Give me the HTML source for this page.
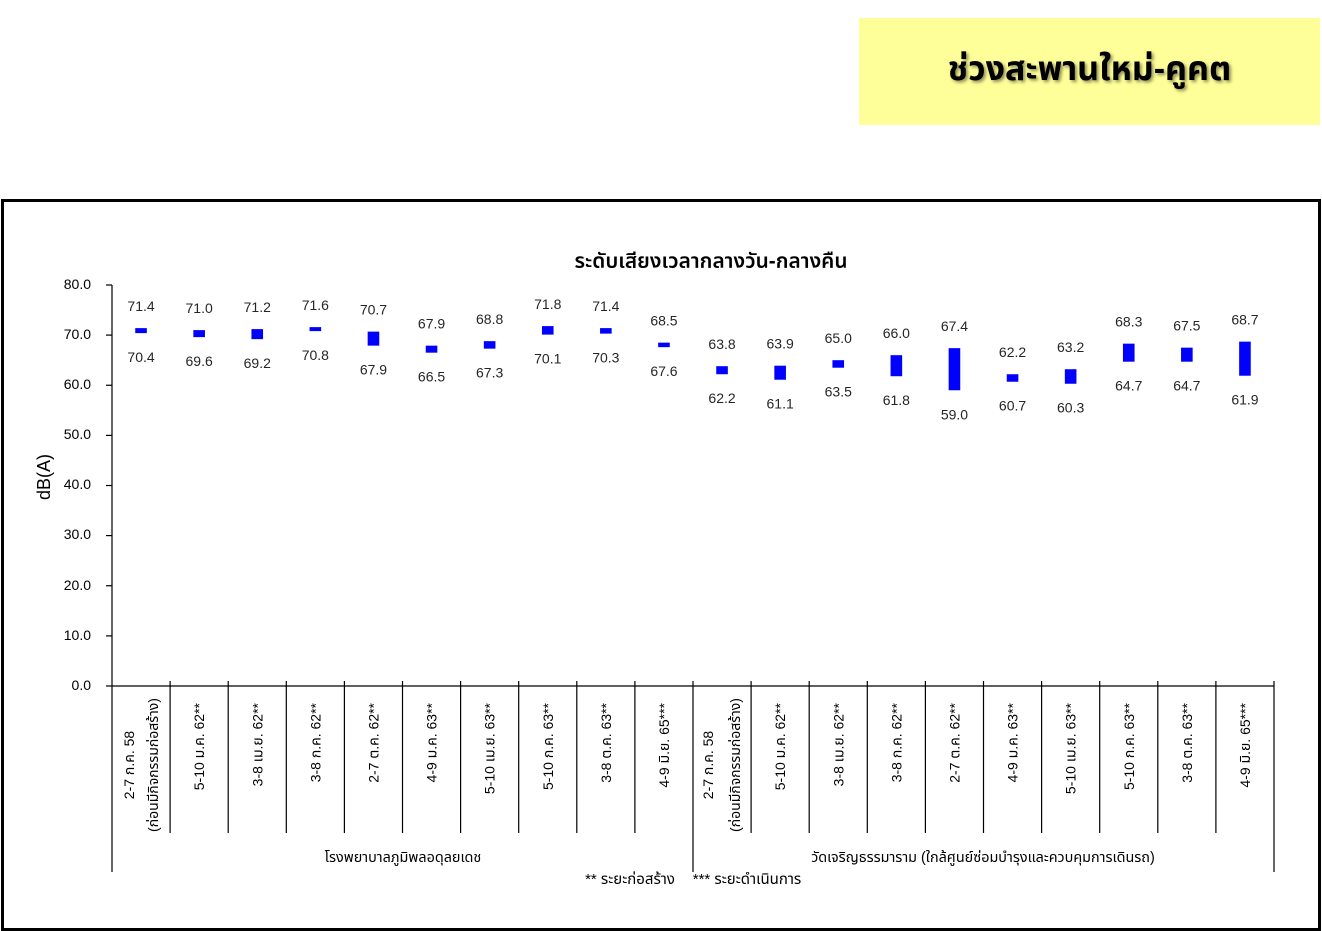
<!DOCTYPE html>
<html><head><meta charset="utf-8">
<style>
html,body{margin:0;padding:0;background:#fff;}
body{width:1322px;height:931px;position:relative;overflow:hidden;font-family:"Liberation Sans","Noto Sans Thai","Garuda","Loma","DejaVu Sans",sans-serif;}
.ybox{position:absolute;left:859px;top:18px;width:461px;height:107px;background:#ffff99;}
.ybox span{position:absolute;left:0;right:0;top:34px;text-align:center;font-size:34px;font-weight:bold;color:#000;text-shadow:2px 2px 3px rgba(0,0,0,0.45);line-height:34px;}
.frame{position:absolute;left:1px;top:199px;width:1320px;height:732px;box-sizing:border-box;border:3px solid #000;}
svg{position:absolute;left:0;top:0;}
svg text{font-family:"Liberation Sans","Noto Sans Thai","Garuda","Loma","DejaVu Sans",sans-serif;}
</style></head>
<body>
<div class="ybox"><span>ช่วงสะพานใหม่-คูคต</span></div>
<div class="frame"></div>
<svg width="1322" height="931" viewBox="0 0 1322 931" xmlns="http://www.w3.org/2000/svg">
<text x="711" y="268" font-size="20.8" font-weight="600" text-anchor="middle" fill="#000">ระดับเสียงเวลากลางวัน-กลางคืน</text>
<text transform="translate(50,477) rotate(-90)" font-size="18" text-anchor="middle" fill="#000">dB(A)</text>
<g stroke="#000" stroke-width="1.2" fill="none">
<line x1="112" y1="285" x2="112" y2="872"/>
<line x1="112" y1="686" x2="1274" y2="686"/>
<line x1="106" y1="285" x2="112" y2="285"/>
<line x1="106" y1="335.1" x2="112" y2="335.1"/>
<line x1="106" y1="385.25" x2="112" y2="385.25"/>
<line x1="106" y1="435.4" x2="112" y2="435.4"/>
<line x1="106" y1="485.5" x2="112" y2="485.5"/>
<line x1="106" y1="535.6" x2="112" y2="535.6"/>
<line x1="106" y1="585.75" x2="112" y2="585.75"/>
<line x1="106" y1="635.9" x2="112" y2="635.9"/>
<line x1="106" y1="686" x2="112" y2="686"/>
<line x1="170.1" y1="681" x2="170.1" y2="833"/>
<line x1="228.2" y1="681" x2="228.2" y2="833"/>
<line x1="286.3" y1="681" x2="286.3" y2="833"/>
<line x1="344.4" y1="681" x2="344.4" y2="833"/>
<line x1="402.5" y1="681" x2="402.5" y2="833"/>
<line x1="460.6" y1="681" x2="460.6" y2="833"/>
<line x1="518.7" y1="681" x2="518.7" y2="833"/>
<line x1="576.8" y1="681" x2="576.8" y2="833"/>
<line x1="634.9" y1="681" x2="634.9" y2="833"/>
<line x1="693" y1="681" x2="693" y2="872"/>
<line x1="751.1" y1="681" x2="751.1" y2="833"/>
<line x1="809.2" y1="681" x2="809.2" y2="833"/>
<line x1="867.3" y1="681" x2="867.3" y2="833"/>
<line x1="925.4" y1="681" x2="925.4" y2="833"/>
<line x1="983.5" y1="681" x2="983.5" y2="833"/>
<line x1="1041.6" y1="681" x2="1041.6" y2="833"/>
<line x1="1099.7" y1="681" x2="1099.7" y2="833"/>
<line x1="1157.8" y1="681" x2="1157.8" y2="833"/>
<line x1="1215.9" y1="681" x2="1215.9" y2="833"/>
<line x1="1274" y1="681" x2="1274" y2="872"/>
</g>
<g font-size="14" text-anchor="end" fill="#000">
<text x="91" y="289">80.0</text>
<text x="91" y="339">70.0</text>
<text x="91" y="389">60.0</text>
<text x="91" y="439">50.0</text>
<text x="91" y="489">40.0</text>
<text x="91" y="539">30.0</text>
<text x="91" y="590">20.0</text>
<text x="91" y="640">10.0</text>
<text x="91" y="690">0.0</text>
</g>
<g fill="#0000ff">
<rect x="135.25" y="328.11" width="11.6" height="5.01"/>
<rect x="193.35" y="330.11" width="11.6" height="7.02"/>
<rect x="251.45" y="329.11" width="11.6" height="10.03"/>
<rect x="309.55" y="327.11" width="11.6" height="4.0"/>
<rect x="367.65" y="331.62" width="11.6" height="14.03"/>
<rect x="425.75" y="345.65" width="11.6" height="7.02"/>
<rect x="483.85" y="341.14" width="11.6" height="7.52"/>
<rect x="541.95" y="326.10" width="11.6" height="8.52"/>
<rect x="600.05" y="328.11" width="11.6" height="5.51"/>
<rect x="658.15" y="342.64" width="11.6" height="4.51"/>
<rect x="716.25" y="366.20" width="11.6" height="8.02"/>
<rect x="774.35" y="365.70" width="11.6" height="14.04"/>
<rect x="832.45" y="360.19" width="11.6" height="7.52"/>
<rect x="890.55" y="355.18" width="11.6" height="21.05"/>
<rect x="948.65" y="348.16" width="11.6" height="42.10"/>
<rect x="1006.75" y="374.22" width="11.6" height="7.52"/>
<rect x="1064.85" y="369.21" width="11.6" height="14.54"/>
<rect x="1122.95" y="343.65" width="11.6" height="18.04"/>
<rect x="1181.05" y="347.66" width="11.6" height="14.03"/>
<rect x="1239.15" y="341.64" width="11.6" height="34.08"/>
</g>
<g font-size="14" text-anchor="middle" fill="#262626">
<text x="141.05" y="311.1">71.4</text><text x="141.05" y="362.1">70.4</text>
<text x="199.15" y="313.1">71.0</text><text x="199.15" y="366.1">69.6</text>
<text x="257.25" y="312.1">71.2</text><text x="257.25" y="368.1">69.2</text>
<text x="315.35" y="310.1">71.6</text><text x="315.35" y="360.1">70.8</text>
<text x="373.45" y="314.6">70.7</text><text x="373.45" y="374.6">67.9</text>
<text x="431.55" y="328.6">67.9</text><text x="431.55" y="381.7">66.5</text>
<text x="489.65" y="324.1">68.8</text><text x="489.65" y="377.7">67.3</text>
<text x="547.75" y="309.1">71.8</text><text x="547.75" y="363.6">70.1</text>
<text x="605.85" y="311.1">71.4</text><text x="605.85" y="362.6">70.3</text>
<text x="663.95" y="325.6">68.5</text><text x="663.95" y="376.1">67.6</text>
<text x="722.05" y="349.2">63.8</text><text x="722.05" y="403.2">62.2</text>
<text x="780.15" y="348.7">63.9</text><text x="780.15" y="408.7">61.1</text>
<text x="838.25" y="343.2">65.0</text><text x="838.25" y="396.7">63.5</text>
<text x="896.35" y="338.2">66.0</text><text x="896.35" y="405.2">61.8</text>
<text x="954.45" y="331.2">67.4</text><text x="954.45" y="419.3">59.0</text>
<text x="1012.55" y="357.2">62.2</text><text x="1012.55" y="410.7">60.7</text>
<text x="1070.65" y="352.2">63.2</text><text x="1070.65" y="412.7">60.3</text>
<text x="1128.75" y="326.6">68.3</text><text x="1128.75" y="390.7">64.7</text>
<text x="1186.85" y="330.7">67.5</text><text x="1186.85" y="390.7">64.7</text>
<text x="1244.95" y="324.6">68.7</text><text x="1244.95" y="404.7">61.9</text>
</g>
<g font-size="14" fill="#000">
<text transform="translate(134,765) rotate(-90)" text-anchor="middle">2-7 ก.ค. 58</text>
<text transform="translate(158,765) rotate(-90)" text-anchor="middle">(ก่อนมีกิจกรรมก่อสร้าง)</text>
<text transform="translate(204.15,703) rotate(-90)" text-anchor="end">5-10 ม.ค. 62**</text>
<text transform="translate(262.25,703) rotate(-90)" text-anchor="end">3-8 เม.ย. 62**</text>
<text transform="translate(320.35,703) rotate(-90)" text-anchor="end">3-8 ก.ค. 62**</text>
<text transform="translate(378.45,703) rotate(-90)" text-anchor="end">2-7 ต.ค. 62**</text>
<text transform="translate(436.55,703) rotate(-90)" text-anchor="end">4-9 ม.ค. 63**</text>
<text transform="translate(494.65,703) rotate(-90)" text-anchor="end">5-10 เม.ย. 63**</text>
<text transform="translate(552.75,703) rotate(-90)" text-anchor="end">5-10 ก.ค. 63**</text>
<text transform="translate(610.85,703) rotate(-90)" text-anchor="end">3-8 ต.ค. 63**</text>
<text transform="translate(668.95,703) rotate(-90)" text-anchor="end">4-9 มิ.ย. 65***</text>
<text transform="translate(713,765) rotate(-90)" text-anchor="middle">2-7 ก.ค. 58</text>
<text transform="translate(740,765) rotate(-90)" text-anchor="middle">(ก่อนมีกิจกรรมก่อสร้าง)</text>
<text transform="translate(785.15,703) rotate(-90)" text-anchor="end">5-10 ม.ค. 62**</text>
<text transform="translate(843.25,703) rotate(-90)" text-anchor="end">3-8 เม.ย. 62**</text>
<text transform="translate(901.35,703) rotate(-90)" text-anchor="end">3-8 ก.ค. 62**</text>
<text transform="translate(959.45,703) rotate(-90)" text-anchor="end">2-7 ต.ค. 62**</text>
<text transform="translate(1017.55,703) rotate(-90)" text-anchor="end">4-9 ม.ค. 63**</text>
<text transform="translate(1075.65,703) rotate(-90)" text-anchor="end">5-10 เม.ย. 63**</text>
<text transform="translate(1133.75,703) rotate(-90)" text-anchor="end">5-10 ก.ค. 63**</text>
<text transform="translate(1191.85,703) rotate(-90)" text-anchor="end">3-8 ต.ค. 63**</text>
<text transform="translate(1249.95,703) rotate(-90)" text-anchor="end">4-9 มิ.ย. 65***</text>
</g>
<g font-size="14.4" fill="#000" text-anchor="middle">
<text x="403" y="862">โรงพยาบาลภูมิพลอดุลยเดช</text>
<text x="983" y="862">วัดเจริญธรรมาราม (ใกล้ศูนย์ซ่อมบำรุงและควบคุมการเดินรถ)</text>
</g>
<g font-size="15" fill="#000" text-anchor="middle">
<text x="630" y="884">** ระยะก่อสร้าง</text>
<text x="747" y="884">*** ระยะดำเนินการ</text>
</g>
</svg>
</body></html>
